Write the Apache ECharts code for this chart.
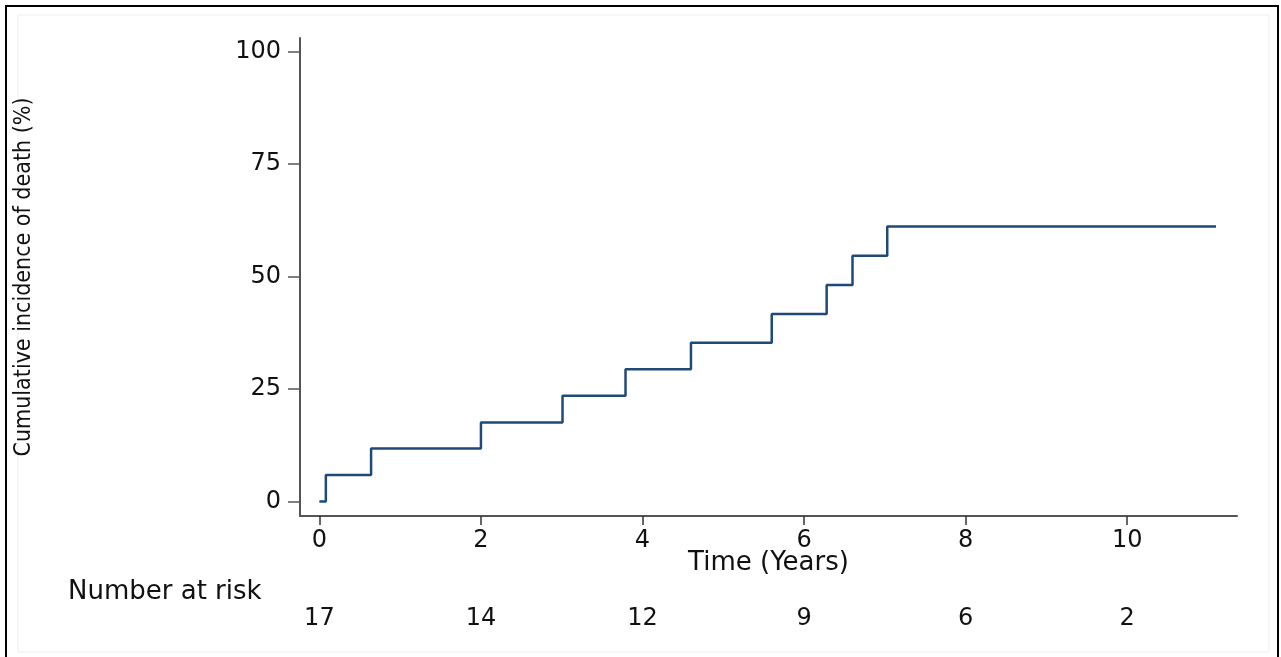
<!DOCTYPE html>
<html>
<head>
<meta charset="utf-8">
<script src="https://cdn.jsdelivr.net/npm/echarts@6/dist/echarts.min.js"></script>
<style>
  html, body { margin: 0; padding: 0; background: #fff; }
  #chart { width: 1281px; height: 657px; }
</style>
</head>
<body>
<div id="chart"></div>
<script>
// step points of the cumulative incidence curve
const times = [0, 0.08, 0.64, 2.0, 3.01, 3.79, 4.6, 5.6, 6.28, 6.6, 7.03, 11.1]
const incidence = [0, 5.9, 11.8, 17.6, 23.5, 29.4, 35.3, 41.7, 48.1, 54.6, 61.1, 61.1]

const xTicks = [0, 2, 4, 6, 8, 10]
const yTicks = [0, 25, 50, 75, 100]
const atRisk = [17, 14, 12, 9, 6, 2]

const wideFont = "'DejaVu Sans', sans-serif"
const axisGray = '#555'

let chart = echarts.init(document.getElementById('chart'))

const option = {
  backgroundColor: '#fff',
  animation: false,
  grid: { left: 300, right: 44, top: 38, bottom: 141, outerBoundsMode: 'none' },
  xAxis: [
    {
      type: 'value',
      min: -0.24,
      max: 11.36,
      name: 'Time (Years)',
      nameLocation: 'middle',
      nameGap: 34,
      nameMoveOverlap: false,
      nameTextStyle: { fontFamily: wideFont, fontSize: 26, color: '#111' },
      splitLine: { show: false },
      axisLine: { show: true, onZero: false, lineStyle: { color: axisGray, width: 2 } },
      axisTick: { show: true, customValues: xTicks, length: 9, lineStyle: { color: '#333', width: 1.5 } },
      axisLabel: { customValues: xTicks, fontFamily: wideFont, fontSize: 24, color: '#111', margin: 13 }
    },
    {
      // number at risk row, placed under the time axis
      type: 'value',
      position: 'bottom',
      offset: 83,
      min: -0.24,
      max: 11.36,
      splitLine: { show: false },
      axisLine: { show: false },
      axisTick: { show: false },
      axisLabel: {
        customValues: xTicks,
        fontFamily: wideFont,
        fontSize: 24,
        color: '#111',
        formatter: v => String(atRisk[xTicks.indexOf(v)])
      }
    }
  ],
  yAxis: {
    type: 'value',
    min: -3.2,
    max: 103,
    name: 'Cumulative incidence of death (%)',
    nameLocation: 'middle',
    nameGap: 264,
    nameRotate: 90,
    nameTextStyle: { fontFamily: "'Liberation Sans Narrow', 'DejaVu Sans Condensed', sans-serif", fontSize: 23, color: '#111' },
    splitLine: { show: false },
    axisLine: { show: true, onZero: false, lineStyle: { color: axisGray, width: 2 } },
    axisTick: { show: true, customValues: yTicks, length: 12, lineStyle: { color: '#555', width: 1.5 } },
    axisLabel: { customValues: yTicks, fontFamily: wideFont, fontSize: 24, color: '#111', margin: 19 }
  },
  series: [
    {
      type: 'line',
      step: 'end',
      showSymbol: false,
      data: times.map((t, i) => [t, incidence[i]]),
      lineStyle: { color: '#1f4a78', width: 2.5 },
      xAxisIndex: 0
    }
  ],
  graphic: [
    {
      type: 'rect',
      shape: { x: 6, y: 6, width: 1272, height: 700 },
      style: { fill: 'none', stroke: '#000', lineWidth: 2 }
    },
    {
      type: 'rect',
      shape: { x: 18, y: 15, width: 1251, height: 637 },
      style: { fill: 'none', stroke: '#eee', lineWidth: 1 }
    },
    {
      type: 'text',
      left: 68,
      top: 579,
      style: { text: 'Number at risk', font: "26px 'DejaVu Sans'", fill: '#111' }
    }
  ]
}

chart.setOption(option)
</script>
</body>
</html>
